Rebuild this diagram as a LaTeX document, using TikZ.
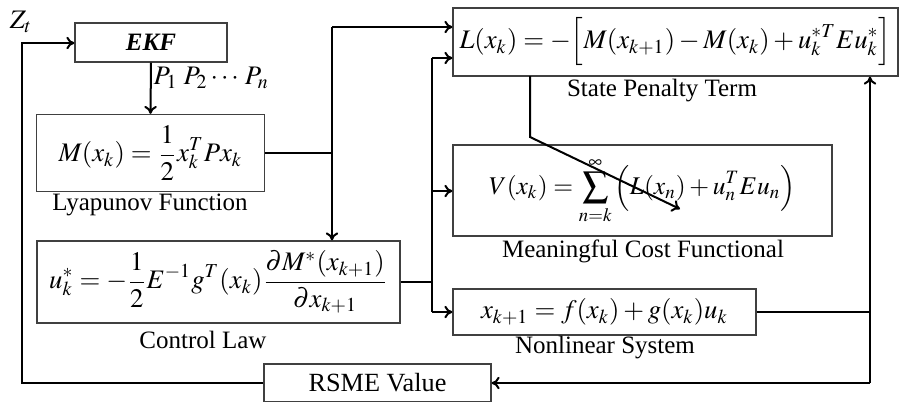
\documentclass[tikz,border=0pt]{standalone}
\usepackage{mathptmx}
\usepackage[no-math]{fontspec}
\setmainfont{Liberation Serif}
\usetikzlibrary{arrows.meta}
\tikzset{
  blk/.style 2 args={draw=black!75, line width=0.5pt, inner sep=0pt,
    minimum width=#1*0.4pt, minimum height=#2*0.4pt, font=\fontsize{10.7}{13}\selectfont},
  captext/.style={inner sep=0pt, font=\fontsize{10}{12}\selectfont},
  wire/.style={line width=0.8pt, black},
  arr/.style={wire, -{To[length=3.2pt,width=5pt]}}
}
\begin{document}
\begin{tikzpicture}[x=0.4pt, y=-0.4pt]
\useasboundingbox (0,0) rectangle (899,401);
\clip (0,0) rectangle (899,401);
% blocks
\node[blk={152}{39}] (ekf) at (151,42.5) {\fontsize{10}{12}\selectfont\textbf{\textit{EKF}}};
\node[blk={228}{77}] (lyap) at (150.5,153) {$\displaystyle M(x_k) = \frac{1}{2}x_k^T P x_k$};
\node[blk={363}{82}] (ctrl) at (218.5,282) {$\displaystyle u_k^* = -\frac{1}{2}E^{-1}g^T(x_k)\frac{\partial M^*(x_{k+1})}{\partial x_{k+1}}$};
\node[blk={227}{38}] (rsme) at (377.5,383) {\fontsize{10.5}{12}\selectfont RSME Value};
\node[blk={445}{68}] (pen) at (675.5,42) {$\displaystyle L(x_k) = -\Big[M(x_{k+1}) - M(x_k) + u_k^{*T}Eu_k^*\Big]$};
\node[blk={379}{91}, font=\fontsize{10.2}{12}\selectfont] (cost) at (642.5,190.5) {$\displaystyle V(x_k) = \sum_{n=k}^{\infty}\Big(L(x_n) + u_n^T E u_n\Big)$};
\node[blk={303}{46}] (sys) at (604.5,312) {$x_{k+1} = f(x_k) + g(x_k)u_k$};
% captions
\node[captext] (c1) at (662,91) {State Penalty Term};
\node[captext] (c2) at (150,205) {Lyapunov Function};
\node[captext] (c3) at (643,251) {Meaningful Cost Functional};
\node[captext] (c4) at (203,340) {Control Law};
\node[captext] (c5) at (605,348) {Nonlinear System};
\node[captext, font=\fontsize{10.7}{13}\selectfont] (zt) at (21,22) {$Z_t$};
\node[captext, anchor=west, font=\fontsize{10.7}{13}\selectfont] (pl) at (153,78) {$P_1\;P_2\cdots\,P_n$};
% junction coordinates
\coordinate (ja) at (332,153);
\coordinate (jb) at (332,27);
\coordinate (jc) at (432,282);
\coordinate (jd) at (432,58);
\coordinate (je) at (432,191);
\coordinate (jf) at (432,312);
\coordinate (jg) at (870,312);
\coordinate (jh) at (870,383);
\coordinate (ji) at (22,383);
\coordinate (jj) at (22,43);
\coordinate (jk) at (530,76);
\coordinate (jl) at (530,137);
\coordinate (jm) at (680,209);
% connectors
\draw[arr] (ekf.south) -- (lyap.north);
\draw[wire] (lyap.east |- ja) -- (ja);
\draw[arr] (jb) -- (ja) -- (ja |- ctrl.north);
\draw[arr] (jb) -- (jb -| pen.west);
\draw[wire] (ctrl.east |- jc) -- (jc);
\draw[arr] (jd) -- (jd -| pen.west);
\draw[wire] (jd) -- (jf);
\draw[arr] (je) -- (je -| cost.west);
\draw[arr] (jf) -- (jf -| sys.west);
\draw[wire] (sys.east |- jg) -- (jg) -- (jh);
\draw[arr] (jg) -- (jg |- pen.south);
\draw[arr] (jh) -- (jh -| rsme.east);
\draw[arr] (rsme.west |- ji) -- (ji) -- (jj) -- (jj -| ekf.west);
\draw[arr] (jk) -- (jl) -- (jm);
\end{tikzpicture}
\end{document}
